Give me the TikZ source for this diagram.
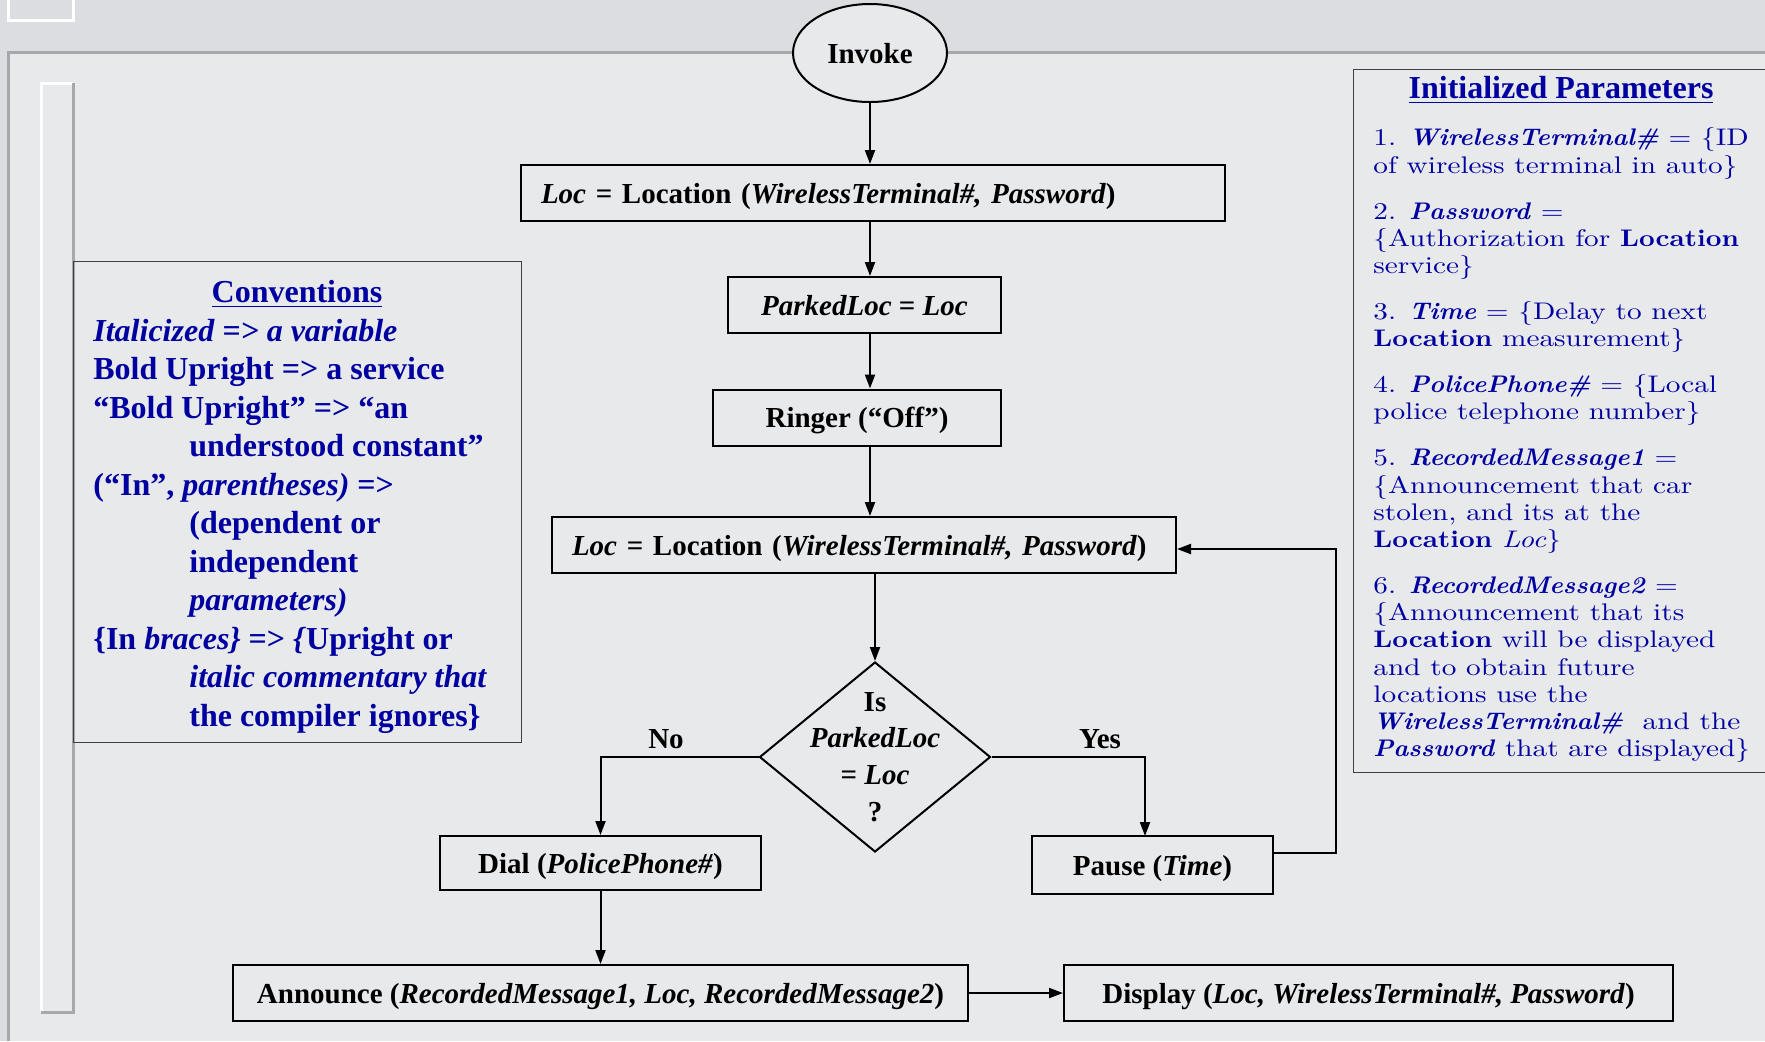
\documentclass[tikz,border=0pt]{standalone}
\usepackage{fontspec}
\usepackage{tikz}
\usetikzlibrary{shapes.geometric,arrows.meta}
\setmainfont{Liberation Serif}
\newfontfamily\paramfont{lmroman10-regular.otf}[BoldFont=lmroman10-bold.otf,ItalicFont=lmroman10-italic.otf,BoldItalicFont=lmroman10-bolditalic.otf,
    UprightFeatures={FakeStretch=1.22},BoldFeatures={FakeStretch=1.14},ItalicFeatures={FakeStretch=1.22},BoldItalicFeatures={FakeStretch=1.06}]
\definecolor{marble}{RGB}{220,221,224}
\definecolor{marblelight}{RGB}{232,233,235}
\definecolor{framegray}{RGB}{168,168,172}
\definecolor{slideblue}{RGB}{0,0,160}
\newcommand{\var}[1]{\textit{#1}}
\newcommand{\bvar}[1]{\textbf{\textit{#1}}}
\newcommand{\indentline}{\hspace*{48pt}}
\tikzset{
    stepbox/.style={draw, rectangle, line width=1pt, minimum height=28pt, inner xsep=10pt,
        text height=13pt, text depth=3pt, font=\fontsize{14.5}{17}\selectfont\bfseries},
    flowtext/.style={inner sep=0pt, font=\fontsize{14.5}{17}\selectfont\bfseries},
    arr/.style={-{Triangle[length=7pt,width=5pt]}, line width=1pt},
    panel/.style={draw=black!75, line width=0.7pt, anchor=north west, inner sep=0pt},
    bluetext/.style={text=slideblue, inner sep=0pt, align=left},
}

\begin{document}
\begin{tikzpicture}[x=0.5pt, y=-0.5pt]
        \clip (0,0) rectangle (1765,1041);
        \fill[marble] (0,0) rectangle (1765,1041);
        \fill[marblelight] (8,52) rectangle (1765,1041);
        \draw[framegray, line width=1.5pt] (8,1041) -- (8,52) -- (1765,52);
        \draw[white, line width=1.5pt] (8,0) -- (8,20) -- (73,20) -- (73,0);
        \draw[white, line width=1.5pt] (41,1012) -- (41,83) -- (73,83);
        \draw[framegray, line width=1.5pt] (73,83) -- (73,1012) -- (41,1012);

        \node[panel, minimum width=224pt, minimum height=240.5pt] (convbox) at (73,261) {};
        \node[bluetext, font=\fontsize{16}{19}\selectfont\bfseries] (convtitle) at (297,294) {\underline{Conventions}};
        \node[bluetext, anchor=north west, font=\fontsize{16}{19.25}\selectfont\bfseries] (convbody) at (93,318.5) {%
            {\itshape Italicized => a variable}\\
            Bold Upright => a service\\
            “Bold Upright” => “an\\
            \indentline understood constant”\\
            (“In”, \textit{parentheses)} =>\\
            \indentline (dependent or\\
            \indentline independent\\
            \indentline \textit{parameters)}\\
            \{In \textit{braces\}} => \textit{\{}Upright or\\
            \indentline \textit{italic commentary that}\\
            \indentline the compiler ignores\}};

        \node[panel, minimum width=212pt, minimum height=351.5pt] (parambox) at (1353,69) {};
        \node[bluetext, font=\fontsize{16}{19}\selectfont\bfseries] (paramtitle) at (1561,90) {\underline{Initialized Parameters}};
        \node[bluetext, anchor=north west, font=\paramfont\fontsize{12}{13.6}\selectfont] (parambody) at (1373,127.5) {%
            1. \bvar{WirelessTerminal\#} = \{ID\\
            of wireless terminal in auto\}\\[9.4pt]
            2. \bvar{Password} =\\
            \{Authorization for \textbf{Location}\\
            service\}\\[9.4pt]
            3. \bvar{Time} = \{Delay to next\\
            \textbf{Location} measurement\}\\[9.4pt]
            4. \bvar{PolicePhone\#} = \{Local\\
            police telephone number\}\\[9.4pt]
            5. \bvar{RecordedMessage1} =\\
            \{Announcement that car\\
            stolen, and its at the\\
            \textbf{Location} \textit{Loc}\}\\[9.4pt]
            6. \bvar{RecordedMessage2} =\\
            \{Announcement that its\\
            \textbf{Location} will be displayed\\
            and to obtain future\\
            locations use the\\
            \bvar{WirelessTerminal\#}\ \ and the\\
            \bvar{Password} that are displayed\}};

        \node[draw, ellipse, line width=1pt, fill=marblelight, minimum width=77pt, minimum height=49pt,
            text height=13pt, text depth=3pt, font=\fontsize{14.5}{17}\selectfont\bfseries] (invoke) at (870,53) {Invoke};
        \node[stepbox, text width=332pt, align=left] (loc1) at (873,193)
            {\var{Loc} = Location (\var{WirelessTerminal\#, Password})};
        \node[stepbox, minimum width=136.5pt] (parked) at (864.5,305) {\var{ParkedLoc} = \var{Loc}};
        \node[stepbox, minimum width=144pt] (ringer) at (857,417.5) {Ringer (“Off”)};
        \node[stepbox, text width=292pt, align=left] (loc2) at (864,545)
            {\var{Loc} = Location (\var{WirelessTerminal\#, Password})};
        \node[draw, diamond, line width=1pt, minimum width=115.5pt, minimum height=95pt, inner sep=0pt] (check) at (875,757) {};
        \node[flowtext, align=center, font=\fontsize{14.5}{18.4}\selectfont\bfseries] (checktext) at (check.center)
            {Is\\\var{ParkedLoc}\\= \var{Loc}\\?};
        \node[flowtext] (nolabel) at (666,739) {No};
        \node[flowtext] (yeslabel) at (1100,739) {Yes};
        \node[stepbox, minimum width=160.5pt, minimum height=27pt] (dial) at (600.5,863) {Dial (\var{PolicePhone\#})};
        \node[stepbox, minimum width=120.5pt, minimum height=29pt] (pause) at (1152.5,865) {Pause (\var{Time})};
        \node[stepbox, minimum width=367.5pt] (announce) at (600.5,993)
            {Announce (\var{RecordedMessage1, Loc, RecordedMessage2})};
        \node[stepbox, minimum width=304.5pt] (disp) at (1368.5,993)
            {Display (\var{Loc, WirelessTerminal\#, Password})};
        \coordinate (back) at (1336,853);
        \coordinate (yesdrop) at (1145,836);

        \draw[arr] (invoke.south) -- (invoke.south |- loc1.north);
        \draw[arr] (loc1.south -| invoke) -- (parked.north -| invoke);
        \draw[arr] (parked.south -| invoke) -- (ringer.north -| invoke);
        \draw[arr] (ringer.south -| invoke) -- (loc2.north -| invoke);
        \draw[arr] (loc2.south -| check) -- (check.north);
        \draw[arr] (check.west) -| (dial.north);
        \draw[arr] (check.east) -| (yesdrop);
        \draw[arr] (pause.east |- back) -- (back) |- ([yshift=-2pt]loc2.east);
        \draw[arr] (dial.south) -- (announce.north);
        \draw[arr] (announce.east) -- (disp.west);
    \end{tikzpicture}
\end{document}
